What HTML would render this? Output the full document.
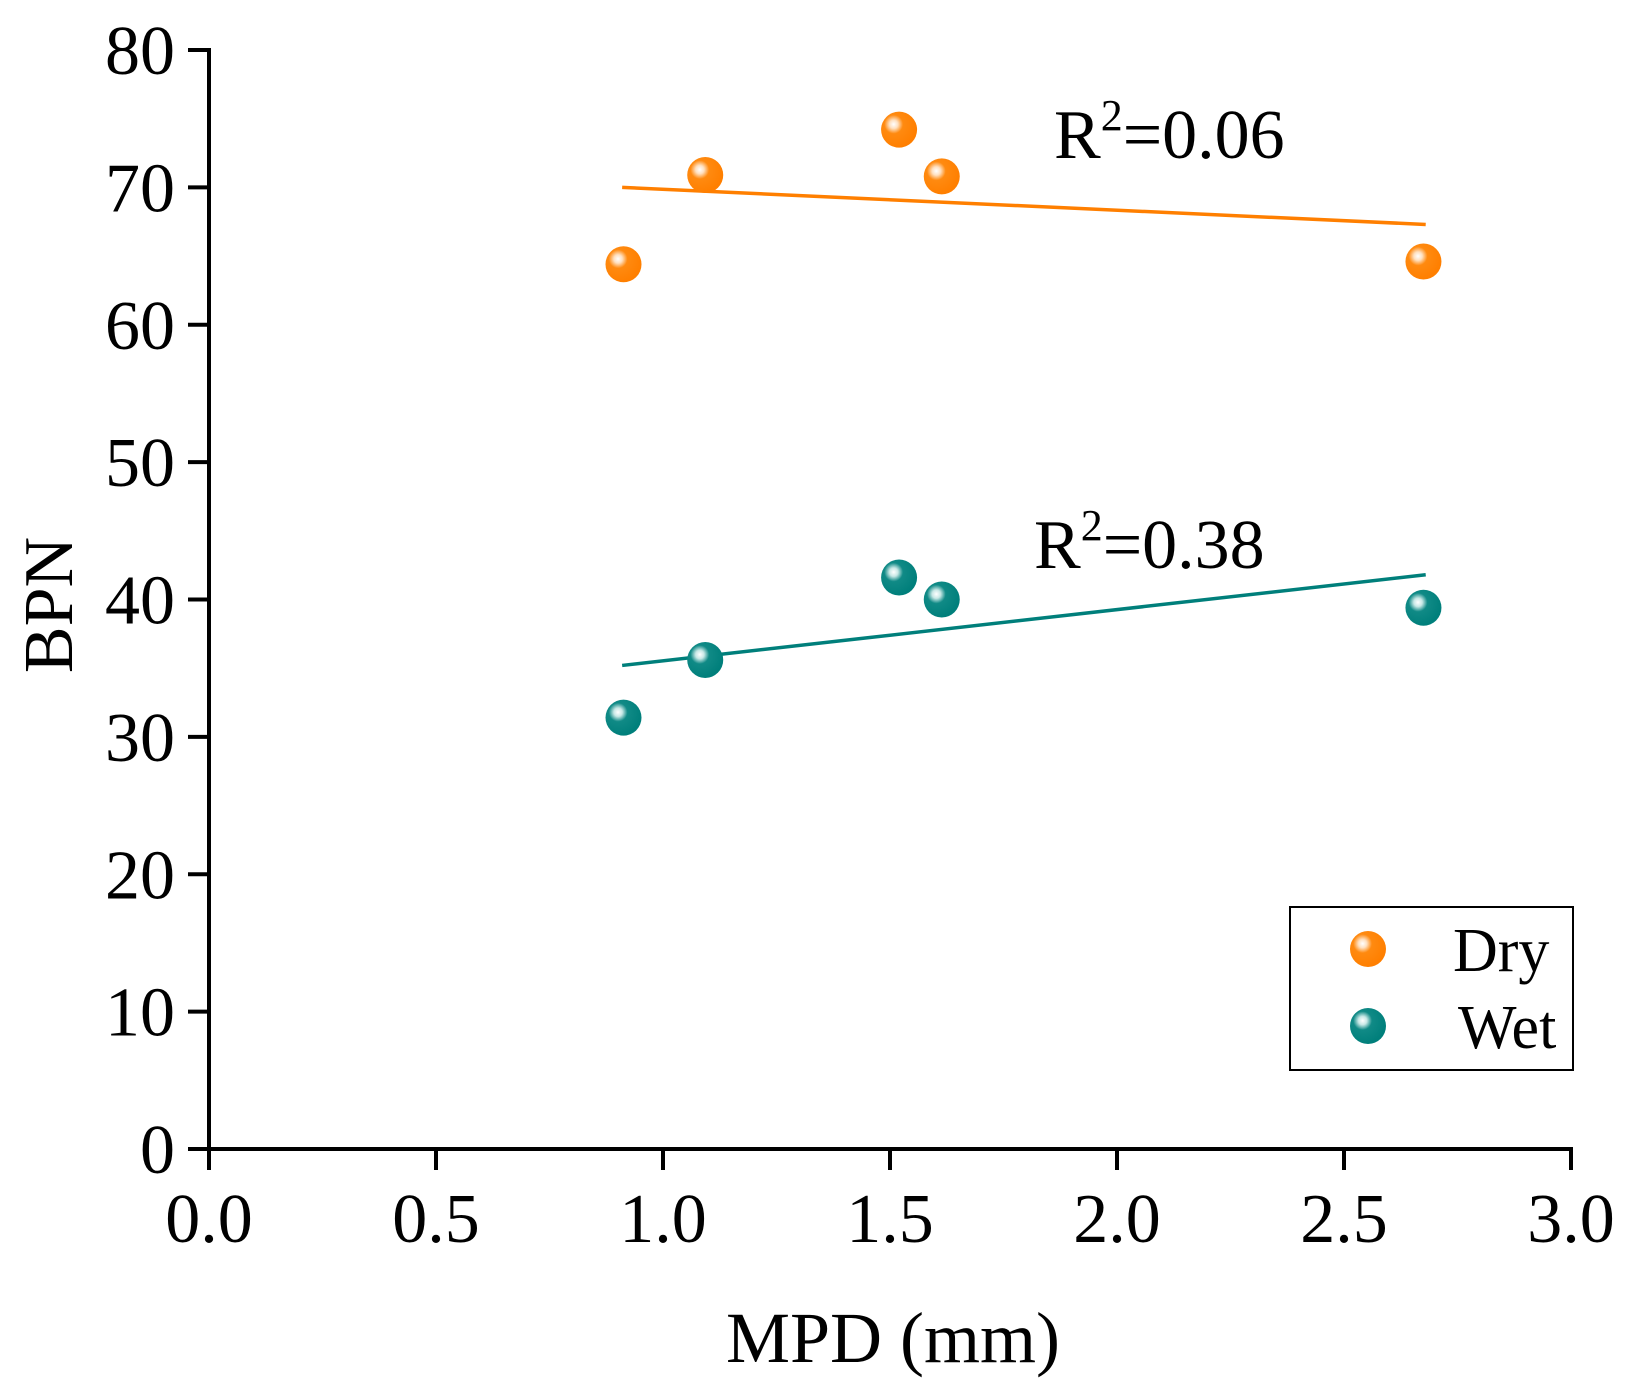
<!DOCTYPE html>
<html><head><meta charset="utf-8"><style>
html,body{margin:0;padding:0;background:#fff}
svg text{font-family:"Liberation Serif",serif;fill:#000}
</style></head><body>
<svg id="chart" width="1638" height="1394" viewBox="0 0 1638 1394">
<defs>
<radialGradient id="gDry" cx="0.35" cy="0.35" r="0.65">
<stop offset="0" stop-color="#fff"/><stop offset="0.18" stop-color="#ffe0c0"/><stop offset="0.4" stop-color="#ff8a10"/><stop offset="1" stop-color="#ff7f00"/></radialGradient>
<radialGradient id="gWet" cx="0.35" cy="0.35" r="0.65">
<stop offset="0" stop-color="#fff"/><stop offset="0.18" stop-color="#c8e8e6"/><stop offset="0.4" stop-color="#108a86"/><stop offset="1" stop-color="#007f7b"/></radialGradient>
</defs>
<g id="plot"></g>
</svg>
<script>
const xTicks=[0,0.5,1.0,1.5,2.0,2.5,3.0];
const xTickLabels=["0.0","0.5","1.0","1.5","2.0","2.5","3.0"];
const yTicks=[0,10,20,30,40,50,60,70,80];
const mpd=[0.913,1.093,1.52,1.614,2.675];
const dryBPN=[64.4,70.9,74.2,70.8,64.6];
const wetBPN=[31.4,35.6,41.6,40.0,39.4];
const dryFitX=[0.91,2.68];
const dryFitY=[70.0,67.3];
const wetFitX=[0.91,2.68];
const wetFitY=[35.2,41.8];
const X0=209,X1=1571,Y0=1149,Y1=50;
const sx=v=>X0+(v-0)/3*(X1-X0);
const sy=v=>Y0-(v/80)*(Y0-Y1);
const NS="http://www.w3.org/2000/svg";
const g=document.getElementById('plot');
function mk(t,a,p){const e=document.createElementNS(NS,t);for(const k in a)e.setAttribute(k,a[k]);(p||g).appendChild(e);return e;}
let e=mk('line',{x1:X0,y1:Y0,x2:X1+2,y2:Y0,stroke:'#000','stroke-width':4});


e=mk('line',{x1:X0,y1:Y0+2,x2:X0,y2:Y1-2,stroke:'#000','stroke-width':4});


xTicks.forEach((v,i)=>{
 const t=mk('line',{x1:sx(v),y1:Y0,x2:sx(v),y2:Y0+21,stroke:'#000','stroke-width':4});
 
 
 const l=mk('text',{x:sx(v),y:Y0+93,'font-size':70,'text-anchor':'middle'});l.textContent=xTickLabels[i];
 
 
});
yTicks.forEach(v=>{
 const t=mk('line',{x1:X0-21,y1:sy(v),x2:X0,y2:sy(v),stroke:'#000','stroke-width':4});
 
 
 const l=mk('text',{x:X0-34,y:sy(v)+24,'font-size':70,'text-anchor':'end'});l.textContent=String(v);
 
 
});
e=mk('line',{x1:sx(dryFitX[0]),y1:sy(dryFitY[0]),x2:sx(dryFitX[1]),y2:sy(dryFitY[1]),stroke:'#ff7f00','stroke-width':3.5});


e=mk('line',{x1:sx(wetFitX[0]),y1:sy(wetFitY[0]),x2:sx(wetFitX[1]),y2:sy(wetFitY[1]),stroke:'#007f7b','stroke-width':3.5});


mpd.forEach((x,i)=>{
 const d=mk('circle',{cx:sx(x),cy:sy(dryBPN[i]),r:18,fill:'url(#gDry)'});
 
 
 const w=mk('circle',{cx:sx(x),cy:sy(wetBPN[i]),r:18,fill:'url(#gWet)'});
 
 
});
</script>
<svg style="position:absolute;left:0;top:0" width="1638" height="1394">
<text x="1054" y="158" font-size="70">R<tspan dy="-28" font-size="44">2</tspan><tspan dy="28">=0.06</tspan></text>
<text x="1034" y="568" font-size="70">R<tspan dy="-28" font-size="44">2</tspan><tspan dy="28">=0.38</tspan></text>
<text x="893" y="1362" font-size="72" text-anchor="middle">MPD (mm)</text>
<text transform="translate(72,605) rotate(-90)" font-size="70" text-anchor="middle">BPN</text>
<g>
<rect x="1290" y="907" width="283" height="163" fill="#fff" stroke="#000" stroke-width="2"/>
<circle cx="1368" cy="949" r="18" fill="url(#gDry)"/>
<text x="1453" y="971" font-size="62">Dry</text>
<circle cx="1368" cy="1026" r="18" fill="url(#gWet)"/>
<text x="1458" y="1048" font-size="62">Wet</text>
</g>
</svg>
</body></html>
